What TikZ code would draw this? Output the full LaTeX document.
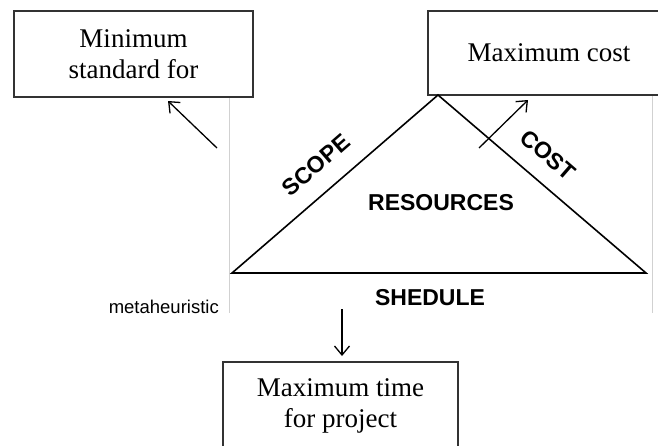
\documentclass[tikz,border=0pt]{standalone}
\usepackage{fontspec}
\setmainfont{Liberation Serif}
\newfontfamily\arialfont{Liberation Sans}
\usetikzlibrary{arrows.meta}
\tikzset{
  boxnode/.style={draw=black!80, line width=1.6pt, inner sep=0pt, align=center,
    font=\fontsize{27}{31}\selectfont},
  guide/.style={draw=black!18, line width=0.8pt},
  tri/.style={draw=black, line width=1.6pt, line join=miter},
  arr/.style={draw=black, line width=1.3pt, -{Straight Barb[length=9pt,width=15pt,line width=1.3pt]}},
  lab/.style={font=\arialfont\bfseries\fontsize{23}{26}\selectfont, inner sep=0pt},
  plain/.style={font=\arialfont\fontsize{18.5}{21}\selectfont, inner sep=0pt}
}
\begin{document}
\begin{tikzpicture}[x=1pt,y=-1pt]
\clip (0,0) rectangle (658,445);
\fill[white] (0,0) rectangle (658,445);
% guide lines
\coordinate (g1t) at (229,97);
\coordinate (g1b) at (229,313);
\coordinate (g2t) at (652,95);
\coordinate (g2b) at (652,313);
\draw[guide] (g1t) -- (g1b);
\draw[guide] (g2t) -- (g2b);
% boxes
\node[boxnode, minimum width=239pt, minimum height=86pt] (box1) at (133.5,54) {Minimum\\standard for};
\node[boxnode, minimum width=242pt, minimum height=84pt] (box2) at (549,53) {Maximum cost};
\node[boxnode, minimum width=235pt, minimum height=88pt] (box3) at (340.5,406) {Maximum time\\for project};
% triangle
\coordinate (A) at (232,273);
\coordinate (B) at (646,273);
\coordinate (C) at (438,95);
\draw[tri] (C) -- (A) -- (B) -- cycle;
% labels
\node[lab, rotate=41] (scope) at (316,165) {SCOPE};
\node[lab, rotate=-41] (cost) at (548,155) {COST};
\node[lab] (res) at (441,203) {RESOURCES};
\node[lab] (shed) at (430,298) {SHEDULE};
\node[plain, anchor=base east] (meta) at (219,313) {metaheuristic};
% arrows
\coordinate (a1s) at (217,148);
\coordinate (a1e) at (168,101);
\coordinate (a2s) at (479,148);
\coordinate (a2e) at (528,100);
\coordinate (a3s) at (342,309);
\coordinate (a3e) at (342,356);
\draw[arr] (a1s) -- (a1e);
\draw[arr] (a2s) -- (a2e);
\draw[arr] (a3s) -- (a3e);
\end{tikzpicture}
\end{document}
